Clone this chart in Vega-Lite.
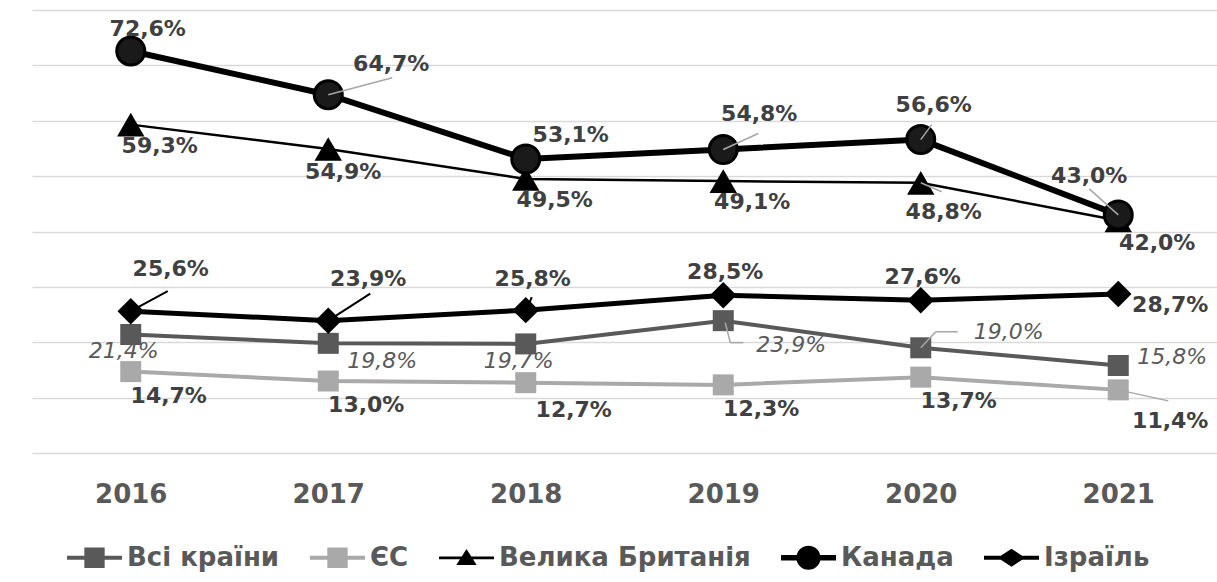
{
  "$schema": "https://vega.github.io/schema/vega-lite/v6.json",
  "width": 1185,
  "height": 443,
  "autosize": "none",
  "padding": {"left": 32, "top": 10, "right": 0, "bottom": 129},
  "background": "white",
  "config": {"view": {"stroke": null}},
  "data": {"values": [
    {"series": "Всі країни", "year": 2016, "value": 21.4},
    {"series": "Всі країни", "year": 2017, "value": 19.8},
    {"series": "Всі країни", "year": 2018, "value": 19.7},
    {"series": "Всі країни", "year": 2019, "value": 23.9},
    {"series": "Всі країни", "year": 2020, "value": 19.0},
    {"series": "Всі країни", "year": 2021, "value": 15.8},
    {"series": "ЄС", "year": 2016, "value": 14.7},
    {"series": "ЄС", "year": 2017, "value": 13.0},
    {"series": "ЄС", "year": 2018, "value": 12.7},
    {"series": "ЄС", "year": 2019, "value": 12.3},
    {"series": "ЄС", "year": 2020, "value": 13.7},
    {"series": "ЄС", "year": 2021, "value": 11.4},
    {"series": "Велика Британія", "year": 2016, "value": 59.3},
    {"series": "Велика Британія", "year": 2017, "value": 54.9},
    {"series": "Велика Британія", "year": 2018, "value": 49.5},
    {"series": "Велика Британія", "year": 2019, "value": 49.1},
    {"series": "Велика Британія", "year": 2020, "value": 48.8},
    {"series": "Велика Британія", "year": 2021, "value": 42.0},
    {"series": "Канада", "year": 2016, "value": 72.6},
    {"series": "Канада", "year": 2017, "value": 64.7},
    {"series": "Канада", "year": 2018, "value": 53.1},
    {"series": "Канада", "year": 2019, "value": 54.8},
    {"series": "Канада", "year": 2020, "value": 56.6},
    {"series": "Канада", "year": 2021, "value": 43.0},
    {"series": "Ізраїль", "year": 2016, "value": 25.6},
    {"series": "Ізраїль", "year": 2017, "value": 23.9},
    {"series": "Ізраїль", "year": 2018, "value": 25.8},
    {"series": "Ізраїль", "year": 2019, "value": 28.5},
    {"series": "Ізраїль", "year": 2020, "value": 27.6},
    {"series": "Ізраїль", "year": 2021, "value": 28.7}
  ]},
  "transform": [
    {"calculate": "replace(format(datum.value, '.1f'), '.', ',') + '%'", "as": "label"}
  ],
  "encoding": {
    "x": {
      "field": "year", "type": "ordinal",
      "scale": {"type": "point", "padding": 0.5},
      "axis": {
        "title": null, "labelAngle": 0, "domain": false, "ticks": false, "tickSize": 0,
        "grid": false, "labelPadding": 28,
        "labelFont": "DejaVu Sans", "labelFontWeight": "bold", "labelFontSize": 26, "labelColor": "#595959"
      }
    },
    "y": {
      "field": "value", "type": "quantitative",
      "scale": {"domain": [0, 80], "nice": false},
      "axis": {
        "title": null, "labels": false, "ticks": false, "domain": false,
        "values": [0, 10, 20, 30, 40, 50, 60, 70, 80],
        "grid": true, "gridColor": "#d9d9d9", "gridWidth": 1.5
      }
    }
  },
  "layer": [
    {
      "transform": [{"filter": "datum.series === 'ЄС'"}],
      "mark": {"type": "line", "strokeWidth": 4, "color": "#a9a9a9"},
      "encoding": {}
    },
    {
      "transform": [{"filter": "datum.series === 'ЄС'"}],
      "mark": {"type": "square", "size": 441, "opacity": 1, "filled": true, "color": "#a9a9a9"},
      "encoding": {}
    },
    {
      "transform": [{"filter": "datum.series === 'Всі країни'"}],
      "mark": {"type": "line", "strokeWidth": 4, "color": "#595959"},
      "encoding": {}
    },
    {
      "transform": [{"filter": "datum.series === 'Всі країни'"}],
      "mark": {"type": "square", "size": 441, "opacity": 1, "filled": true, "color": "#595959"},
      "encoding": {}
    },
    {
      "transform": [{"filter": "datum.series === 'Велика Британія'"}],
      "mark": {"type": "line", "strokeWidth": 2.5, "color": "#000000"},
      "encoding": {}
    },
    {
      "transform": [{"filter": "datum.series === 'Велика Британія'"}],
      "mark": {"type": "point", "shape": "triangle-up", "size": 750, "filled": true, "opacity": 1, "color": "#000000"},
      "encoding": {}
    },
    {
      "transform": [{"filter": "datum.series === 'Ізраїль'"}],
      "mark": {"type": "line", "strokeWidth": 5, "color": "#000000"},
      "encoding": {}
    },
    {
      "transform": [{"filter": "datum.series === 'Ізраїль'"}],
      "mark": {"type": "point", "shape": "diamond", "size": 700, "filled": true, "opacity": 1, "color": "#000000"},
      "encoding": {}
    },
    {
      "transform": [{"filter": "datum.series === 'Канада'"}],
      "mark": {"type": "line", "strokeWidth": 6, "color": "#000000"},
      "encoding": {}
    },
    {
      "transform": [{"filter": "datum.series === 'Канада'"}],
      "mark": {"type": "point", "shape": "circle", "size": 784, "filled": true, "opacity": 1, "fill": "#1a1a1a", "stroke": "#000000", "strokeWidth": 3},
      "encoding": {}
    },
    {"transform": [{"filter": "datum.series === 'Канада' && datum.year === 2017"}],
     "mark": {"type": "rule", "color": "#a6a6a6", "strokeWidth": 1.5, "xOffset": 0, "yOffset": 0, "x2Offset": 64, "y2Offset": -17},
     "encoding": {"x2": {"field": "year"}, "y2": {"field": "value"}}},
    {"transform": [{"filter": "datum.series === 'Канада' && datum.year === 2019"}],
     "mark": {"type": "rule", "color": "#a6a6a6", "strokeWidth": 1.5, "xOffset": 0, "yOffset": 0, "x2Offset": 35, "y2Offset": -16},
     "encoding": {"x2": {"field": "year"}, "y2": {"field": "value"}}},
    {"transform": [{"filter": "datum.series === 'Канада' && datum.year === 2020"}],
     "mark": {"type": "rule", "color": "#a6a6a6", "strokeWidth": 1.5, "xOffset": 0, "yOffset": 0, "x2Offset": 11, "y2Offset": -15},
     "encoding": {"x2": {"field": "year"}, "y2": {"field": "value"}}},
    {"transform": [{"filter": "datum.series === 'Канада' && datum.year === 2021"}],
     "mark": {"type": "rule", "color": "#a6a6a6", "strokeWidth": 1.5, "xOffset": 0, "yOffset": 0, "x2Offset": -29, "y2Offset": -26},
     "encoding": {"x2": {"field": "year"}, "y2": {"field": "value"}}},
    {"transform": [{"filter": "datum.series === 'Велика Британія' && datum.year === 2020"}],
     "mark": {"type": "rule", "color": "#a6a6a6", "strokeWidth": 1.5, "xOffset": 0, "yOffset": 0, "x2Offset": 21, "y2Offset": 9},
     "encoding": {"x2": {"field": "year"}, "y2": {"field": "value"}}},
    {"transform": [{"filter": "datum.series === 'Ізраїль' && datum.year === 2016"}],
     "mark": {"type": "rule", "color": "#000000", "strokeWidth": 2, "xOffset": 0, "yOffset": 0, "x2Offset": 37, "y2Offset": -20},
     "encoding": {"x2": {"field": "year"}, "y2": {"field": "value"}}},
    {"transform": [{"filter": "datum.series === 'Ізраїль' && datum.year === 2017"}],
     "mark": {"type": "rule", "color": "#000000", "strokeWidth": 2, "xOffset": 0, "yOffset": 0, "x2Offset": 42, "y2Offset": -27},
     "encoding": {"x2": {"field": "year"}, "y2": {"field": "value"}}},
    {"transform": [{"filter": "datum.series === 'Ізраїль' && datum.year === 2018"}],
     "mark": {"type": "rule", "color": "#000000", "strokeWidth": 2, "xOffset": 2, "yOffset": -3, "x2Offset": 6, "y2Offset": -13},
     "encoding": {"x2": {"field": "year"}, "y2": {"field": "value"}}},
    {"transform": [{"filter": "datum.series === 'Всі країни' && datum.year === 2019"}],
     "mark": {"type": "rule", "color": "#a6a6a6", "strokeWidth": 1.5, "xOffset": 2, "yOffset": 2, "x2Offset": 7, "y2Offset": 22},
     "encoding": {"x2": {"field": "year"}, "y2": {"field": "value"}}},
    {"transform": [{"filter": "datum.series === 'Всі країни' && datum.year === 2019"}],
     "mark": {"type": "rule", "color": "#a6a6a6", "strokeWidth": 1.5, "xOffset": 7, "yOffset": 22, "x2Offset": 20, "y2Offset": 22},
     "encoding": {"x2": {"field": "year"}, "y2": {"field": "value"}}},
    {"transform": [{"filter": "datum.series === 'Всі країни' && datum.year === 2020"}],
     "mark": {"type": "rule", "color": "#a6a6a6", "strokeWidth": 1.5, "xOffset": 0, "yOffset": 0, "x2Offset": 15, "y2Offset": -16},
     "encoding": {"x2": {"field": "year"}, "y2": {"field": "value"}}},
    {"transform": [{"filter": "datum.series === 'Всі країни' && datum.year === 2020"}],
     "mark": {"type": "rule", "color": "#a6a6a6", "strokeWidth": 1.5, "xOffset": 15, "yOffset": -16, "x2Offset": 37, "y2Offset": -16},
     "encoding": {"x2": {"field": "year"}, "y2": {"field": "value"}}},
    {"transform": [{"filter": "datum.series === 'ЄС' && datum.year === 2021"}],
     "mark": {"type": "rule", "color": "#a6a6a6", "strokeWidth": 1.5, "xOffset": 0, "yOffset": 0, "x2Offset": 50, "y2Offset": 11},
     "encoding": {"x2": {"field": "year"}, "y2": {"field": "value"}}},
    {"transform": [{"filter": "datum.series === 'Канада' && datum.year === 2016"}],
     "mark": {"type": "text", "font": "DejaVu Sans", "fontSize": 22, "fontWeight": "bold", "color": "#404040", "dx": 17, "dy": -22},
     "encoding": {"text": {"field": "label"}}},
    {"transform": [{"filter": "datum.series === 'Канада' && datum.year === 2017"}],
     "mark": {"type": "text", "font": "DejaVu Sans", "fontSize": 22, "fontWeight": "bold", "color": "#404040", "dx": 63, "dy": -31},
     "encoding": {"text": {"field": "label"}}},
    {"transform": [{"filter": "datum.series === 'Канада' && datum.year === 2018"}],
     "mark": {"type": "text", "font": "DejaVu Sans", "fontSize": 22, "fontWeight": "bold", "color": "#404040", "dx": 45, "dy": -24},
     "encoding": {"text": {"field": "label"}}},
    {"transform": [{"filter": "datum.series === 'Канада' && datum.year === 2019"}],
     "mark": {"type": "text", "font": "DejaVu Sans", "fontSize": 22, "fontWeight": "bold", "color": "#404040", "dx": 36, "dy": -36},
     "encoding": {"text": {"field": "label"}}},
    {"transform": [{"filter": "datum.series === 'Канада' && datum.year === 2020"}],
     "mark": {"type": "text", "font": "DejaVu Sans", "fontSize": 22, "fontWeight": "bold", "color": "#404040", "dx": 13, "dy": -35},
     "encoding": {"text": {"field": "label"}}},
    {"transform": [{"filter": "datum.series === 'Канада' && datum.year === 2021"}],
     "mark": {"type": "text", "font": "DejaVu Sans", "fontSize": 22, "fontWeight": "bold", "color": "#404040", "dx": -29, "dy": -39},
     "encoding": {"text": {"field": "label"}}},
    {"transform": [{"filter": "datum.series === 'Велика Британія' && indexof([2016, 2018, 2019], datum.year) >= 0"}],
     "mark": {"type": "text", "font": "DejaVu Sans", "fontSize": 22, "fontWeight": "bold", "color": "#404040", "dx": 29, "dy": 21},
     "encoding": {"text": {"field": "label"}}},
    {"transform": [{"filter": "datum.series === 'Велика Британія' && datum.year === 2017"}],
     "mark": {"type": "text", "font": "DejaVu Sans", "fontSize": 22, "fontWeight": "bold", "color": "#404040", "dx": 15, "dy": 23},
     "encoding": {"text": {"field": "label"}}},
    {"transform": [{"filter": "datum.series === 'Велика Британія' && datum.year === 2020"}],
     "mark": {"type": "text", "font": "DejaVu Sans", "fontSize": 22, "fontWeight": "bold", "color": "#404040", "dx": 23, "dy": 29},
     "encoding": {"text": {"field": "label"}}},
    {"transform": [{"filter": "datum.series === 'Велика Британія' && datum.year === 2021"}],
     "mark": {"type": "text", "font": "DejaVu Sans", "fontSize": 22, "fontWeight": "bold", "color": "#404040", "dx": 39, "dy": 23},
     "encoding": {"text": {"field": "label"}}},
    {"transform": [{"filter": "datum.series === 'Ізраїль' && indexof([2016, 2017], datum.year) >= 0"}],
     "mark": {"type": "text", "font": "DejaVu Sans", "fontSize": 22, "fontWeight": "bold", "color": "#404040", "dx": 40, "dy": -42},
     "encoding": {"text": {"field": "label"}}},
    {"transform": [{"filter": "datum.series === 'Ізраїль' && datum.year === 2018"}],
     "mark": {"type": "text", "font": "DejaVu Sans", "fontSize": 22, "fontWeight": "bold", "color": "#404040", "dx": 7, "dy": -31},
     "encoding": {"text": {"field": "label"}}},
    {"transform": [{"filter": "datum.series === 'Ізраїль' && indexof([2019, 2020], datum.year) >= 0"}],
     "mark": {"type": "text", "font": "DejaVu Sans", "fontSize": 22, "fontWeight": "bold", "color": "#404040", "dx": 2, "dy": -23},
     "encoding": {"text": {"field": "label"}}},
    {"transform": [{"filter": "datum.series === 'Ізраїль' && datum.year === 2021"}],
     "mark": {"type": "text", "font": "DejaVu Sans", "fontSize": 22, "fontWeight": "bold", "color": "#404040", "dx": 52, "dy": 11},
     "encoding": {"text": {"field": "label"}}},
    {"transform": [{"filter": "datum.series === 'Всі країни' && indexof([2016, 2018], datum.year) >= 0"}],
     "mark": {"type": "text", "font": "DejaVu Sans", "fontSize": 22, "fontStyle": "italic", "color": "#595959", "dx": -7, "dy": 17},
     "encoding": {"text": {"field": "label"}}},
    {"transform": [{"filter": "datum.series === 'Всі країни' && datum.year === 2017"}],
     "mark": {"type": "text", "font": "DejaVu Sans", "fontSize": 22, "fontStyle": "italic", "color": "#595959", "dx": 54, "dy": 18},
     "encoding": {"text": {"field": "label"}}},
    {"transform": [{"filter": "datum.series === 'Всі країни' && datum.year === 2019"}],
     "mark": {"type": "text", "font": "DejaVu Sans", "fontSize": 22, "fontStyle": "italic", "color": "#595959", "dx": 68, "dy": 24},
     "encoding": {"text": {"field": "label"}}},
    {"transform": [{"filter": "datum.series === 'Всі країни' && datum.year === 2020"}],
     "mark": {"type": "text", "font": "DejaVu Sans", "fontSize": 22, "fontStyle": "italic", "color": "#595959", "dx": 88, "dy": -16},
     "encoding": {"text": {"field": "label"}}},
    {"transform": [{"filter": "datum.series === 'Всі країни' && datum.year === 2021"}],
     "mark": {"type": "text", "font": "DejaVu Sans", "fontSize": 22, "fontStyle": "italic", "color": "#595959", "dx": 54, "dy": -9},
     "encoding": {"text": {"field": "label"}}},
    {"transform": [{"filter": "datum.series === 'ЄС' && indexof([2016, 2017, 2019, 2020], datum.year) >= 0"}],
     "mark": {"type": "text", "font": "DejaVu Sans", "fontSize": 22, "fontWeight": "bold", "color": "#404040", "dx": 38, "dy": 24},
     "encoding": {"text": {"field": "label"}}},
    {"transform": [{"filter": "datum.series === 'ЄС' && datum.year === 2018"}],
     "mark": {"type": "text", "font": "DejaVu Sans", "fontSize": 22, "fontWeight": "bold", "color": "#404040", "dx": 48, "dy": 27},
     "encoding": {"text": {"field": "label"}}},
    {"transform": [{"filter": "datum.series === 'ЄС' && datum.year === 2021"}],
     "mark": {"type": "text", "font": "DejaVu Sans", "fontSize": 22, "fontWeight": "bold", "color": "#404040", "dx": 52, "dy": 31},
     "encoding": {"text": {"field": "label"}}},
    {
      "mark": {"type": "point", "filled": true, "opacity": 0},
      "encoding": {
        "color": {"field": "series", "type": "nominal",
          "scale": {"domain": ["Всі країни", "ЄС", "Велика Британія", "Канада", "Ізраїль"], "range": ["#595959", "#a9a9a9", "#000000", "#000000", "#000000"]},
          "legend": {
            "orient": "none", "legendX": 35, "legendY": 520, "direction": "horizontal", "title": null,
            "labelFont": "DejaVu Sans", "labelFontWeight": "bold", "labelFontSize": 26, "labelColor": "#595959", "labelLimit": 500,
            "symbolSize": 3025, "symbolStrokeWidth": 0, "symbolOpacity": 1, "labelOffset": 5, "columnPadding": 30, "padding": 0
          }},
        "shape": {"field": "series", "type": "nominal",
          "scale": {"domain": ["Всі країни", "ЄС", "Велика Британія", "Канада", "Ізраїль"],
            "range": [
              "M-1,-0.075H1V0.075H-1Z M-0.37,-0.37H0.37V0.37H-0.37Z",
              "M-1,-0.075H1V0.075H-1Z M-0.37,-0.37H0.37V0.37H-0.37Z",
              "M-1,-0.05H1V0.05H-1Z M0,-0.32L0.37,0.26H-0.37Z",
              "M-1,-0.1H1V0.1H-1Z M-0.44,0A0.44,0.44,0,1,1,0.44,0A0.44,0.44,0,1,1,-0.44,0Z",
              "M-1,-0.075H1V0.075H-1Z M-0.5,0L0,-0.33L0.5,0L0,0.33Z"
            ]},
          "legend": {
            "orient": "none", "legendX": 35, "legendY": 520, "direction": "horizontal", "title": null,
            "labelFont": "DejaVu Sans", "labelFontWeight": "bold", "labelFontSize": 26, "labelColor": "#595959", "labelLimit": 500,
            "symbolSize": 3025, "symbolStrokeWidth": 0, "symbolOpacity": 1, "labelOffset": 5, "columnPadding": 30, "padding": 0
          }}
      }
    }
  ]
}
